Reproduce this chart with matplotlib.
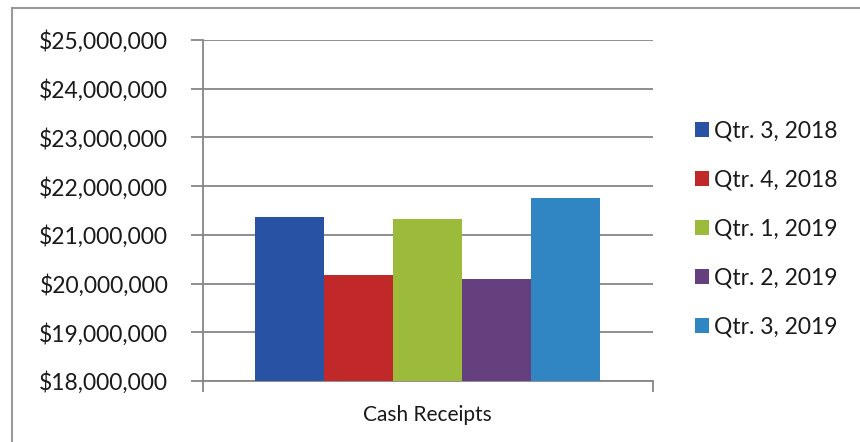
import matplotlib
matplotlib.use('Agg')
import matplotlib.pyplot as plt
from matplotlib.lines import Line2D
from matplotlib.ticker import FuncFormatter

quarters = ['Qtr. 3, 2018', 'Qtr. 4, 2018', 'Qtr. 1, 2019', 'Qtr. 2, 2019', 'Qtr. 3, 2019']
receipts = [21370000, 20180000, 21320000, 20090000, 21760000]
colors = ['#2853a5', '#c0282a', '#9dbb3a', '#65407e', '#2f86c3']
category = 'Cash Receipts'

plt.rcParams['font.family'] = ['Lato', 'DejaVu Sans']
grid_col = '#868686'
txt_col = '#1a1a1a'

fig = plt.figure(figsize=(8.6, 4.42), dpi=100, facecolor='white')
ax = fig.add_axes([0.236, 0.138, 0.523, 0.7715])

# one category, five bars side by side
bw = 0.1533
for i, (q, v, c) in enumerate(zip(quarters, receipts, colors)):
    ax.bar(0.5 + (i - 2) * bw, v, width=bw, color=c, label=q, zorder=3)

ax.set_xlim(0, 1)
ax.set_ylim(18000000, 25000000)
ax.set_yticks(range(18000000, 25000001, 1000000))
ax.yaxis.set_major_formatter(FuncFormatter(lambda v, p: f'${v:,.0f}'))
ax.grid(True, axis='y', color=grid_col, linewidth=1.3, zorder=0)

ax.set_xticks([0.5])
ax.set_xticklabels([category])
ax.set_xticks([0, 1], minor=True)
ax.tick_params(axis='x', which='major', length=0, pad=17, labelsize=15, labelcolor=txt_col)
ax.tick_params(axis='x', which='minor', length=8, width=1.3, color=grid_col)
ax.tick_params(axis='y', length=9, width=1.3, color=grid_col, pad=16,
               labelsize=16.5, labelcolor=txt_col)

for side in ['top', 'right']:
    ax.spines[side].set_visible(False)
for side in ['left', 'bottom']:
    ax.spines[side].set_color(grid_col)
    ax.spines[side].set_linewidth(1.3)

ax.legend(loc='center left', bbox_to_anchor=(1.048, 0.446), frameon=False,
          fontsize=16.5, labelcolor=txt_col, handlelength=0.6, handleheight=0.6,
          handletextpad=0.25, labelspacing=1.22)

# chart frame
fig.add_artist(Line2D([12 / 860, 1], [1 - 8 / 442] * 2, color='#9a9a9a', linewidth=1.5))
fig.add_artist(Line2D([12 / 860] * 2, [0, 1 - 8 / 442], color='#9a9a9a', linewidth=1.5))

plt.savefig('out.png', dpi=100, facecolor='white')
plt.close()
